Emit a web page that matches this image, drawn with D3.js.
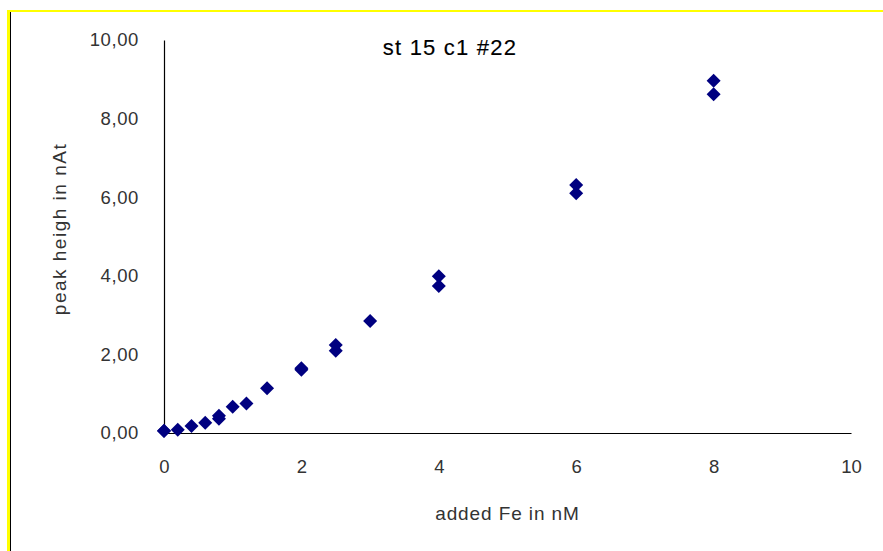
<!DOCTYPE html>
<html>
<head>
<meta charset="utf-8">
<script src="https://cdn.jsdelivr.net/npm/d3@7"></script>
<style>
  html, body { margin: 0; padding: 0; background: #fff; }
  svg { display: block; }
</style>
</head>
<body>
<script>
// Data
const addedFe = [0, 0, 0.2, 0.4, 0.6, 0.8, 0.8, 1.0, 1.2, 1.5, 2, 2, 2.5, 2.5, 3, 4, 4, 6, 6, 8, 8];
const peakHeight = [0.05, 0.06, 0.08, 0.18, 0.26, 0.36, 0.44, 0.67, 0.75, 1.14, 1.61, 1.65, 2.09, 2.24, 2.85, 3.74, 3.99, 6.10, 6.31, 8.62, 8.96];
const xTicks = [0, 2, 4, 6, 8, 10];
const yTicks = [0, 2, 4, 6, 8, 10];
const yTickLabels = ["0,00", "2,00", "4,00", "6,00", "8,00", "10,00"];
const chartTitle = "st 15 c1 #22";
const xTitle = "added Fe in nM";
const yTitle = "peak heigh in nAt";

const W = 883, H = 551;
const svg = d3.select("body").append("svg").attr("width", W).attr("height", H);

// Frame decoration
svg.append("rect").attr("x", 7).attr("y", 10).attr("width", W - 7).attr("height", 2).attr("fill", "#ffff00");
svg.append("rect").attr("x", 7).attr("y", 10).attr("width", 3).attr("height", H - 10).attr("fill", "#ffff00");
svg.append("rect").attr("x", 10).attr("y", 12).attr("width", 1).attr("height", H - 12).attr("fill", "#000");

const x = d3.scaleLinear().domain([0, 10]).range([164, 851]);
const y = d3.scaleLinear().domain([0, 10]).range([433, 40]);

const font = "'Liberation Sans', Arial, sans-serif";

// Y axis
const yAxis = svg.append("g").attr("transform", `translate(${x(0)},0)`)
  .call(d3.axisLeft(y).tickValues(yTicks).tickSize(0).tickPadding(25)
    .tickFormat((d, i) => yTickLabels[i]));
yAxis.select(".domain").attr("stroke", "#000").attr("stroke-width", 1.2);
yAxis.selectAll("text").attr("font-family", font).attr("font-size", 18.5)
  .attr("fill", "#333").attr("letter-spacing", 0.6);

// X axis
const xAxis = svg.append("g").attr("transform", `translate(0,${y(0)})`)
  .call(d3.axisBottom(x).tickValues(xTicks).tickSize(0).tickPadding(27)
    .tickFormat(d3.format("d")));
xAxis.select(".domain").attr("stroke", "#000").attr("stroke-width", 1.2);
xAxis.selectAll("text").attr("font-family", font).attr("font-size", 18.5)
  .attr("fill", "#333");

// Points (diamonds)
svg.append("g").selectAll("path")
  .data(addedFe.map((v, i) => [v, peakHeight[i]]))
  .join("path")
  .attr("d", d3.symbol().type(d3.symbolSquare).size(98))
  .attr("transform", d => `translate(${x(d[0])},${y(d[1])}) rotate(45)`)
  .attr("fill", "#000080");

// Titles
svg.append("text").attr("x", 450).attr("y", 55).attr("text-anchor", "middle")
  .attr("font-family", font).attr("font-size", 22).attr("fill", "#000")
  .attr("letter-spacing", 1.2).attr("stroke", "#000").attr("stroke-width", 0.15)
  .text(chartTitle);

svg.append("text").attr("x", (x(0) + x(10)) / 2).attr("y", 520).attr("text-anchor", "middle")
  .attr("font-family", font).attr("font-size", 19).attr("fill", "#333")
  .attr("letter-spacing", 0.9)
  .text(xTitle);

svg.append("text").attr("transform", `translate(66,229) rotate(-90)`).attr("text-anchor", "middle")
  .attr("font-family", font).attr("font-size", 19).attr("fill", "#333")
  .attr("letter-spacing", 1.5)
  .text(yTitle);
</script>
</body>
</html>
